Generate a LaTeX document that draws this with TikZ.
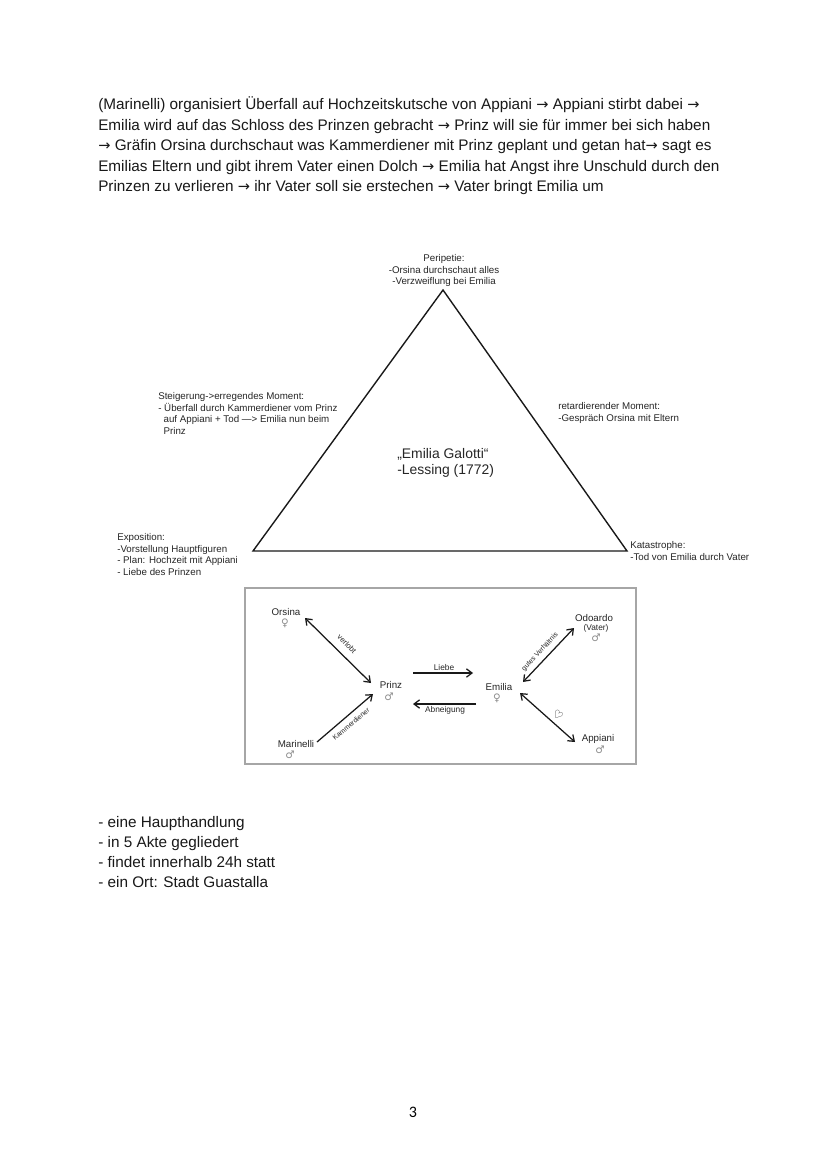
\documentclass[tikz,border=0pt]{standalone}
\usepackage{fontspec}
\setmainfont{Liberation Sans}
\newfontfamily\symfont{DejaVu Sans}
\newfontfamily\pagefont{Carlito}
\usetikzlibrary{arrows.meta}
\newcommand{\ar}{{\symfont\fontsize{10.5}{11}\selectfont →}}
\begin{document}
\begin{tikzpicture}[x=0.7186pt,y=-0.7186pt,
  body/.style={anchor=base west,inner sep=0pt,font=\fontsize{11}{15}\selectfont,text=black!90},
  small/.style={inner sep=0pt,font=\fontsize{7}{8.4}\selectfont,text=black!85},
  title/.style={inner sep=0pt,align=left,font=\fontsize{10}{11.6}\selectfont,text=black!85},
  person/.style={inner sep=0pt,align=center,font=\fontsize{7}{8.2}\selectfont,text=black!85},
  gsym/.style={text=black!45,font=\symfont\fontsize{7.5}{8}\selectfont},
  rel/.style={line width=0.9pt,black!90},
  tip/.style={-{Straight Barb[length=4pt,width=6pt,line width=0.9pt]}},
  dtip/.style={{Straight Barb[length=4pt,width=6pt,line width=0.9pt]}-{Straight Barb[length=4pt,width=6pt,line width=0.9pt]}},
  lab/.style={inner sep=0pt,font=\fontsize{5}{6}\selectfont,text=black!85}]
\useasboundingbox[fill=white] (0,0) rectangle (828,1171);

% header text
\node[body] (h1) at (98,110) {(Marinelli) organisiert Überfall auf Hochzeitskutsche von Appiani \ar{} Appiani stirbt dabei \ar};
\node[body] (h2) at (98,131) {Emilia wird auf das Schloss des Prinzen gebracht \ar{} Prinz will sie für immer bei sich haben};
\node[body] (h3) at (98,151) {\ar{} Gräfin Orsina durchschaut was Kammerdiener mit Prinz geplant und getan hat\ar{} sagt es};
\node[body] (h4) at (98,172) {Emilias Eltern und gibt ihrem Vater einen Dolch \ar{} Emilia hat Angst ihre Unschuld durch den};
\node[body] (h5) at (98,192) {Prinzen zu verlieren \ar{} ihr Vater soll sie erstechen \ar{} Vater bringt Emilia um};

% triangle
\coordinate (apex) at (443,290);
\coordinate (bl) at (253,551);
\coordinate (br) at (627,551);
\draw[line width=1pt,black!90,line join=miter] (apex) -- (br) -- (bl) -- cycle;

\node[small,align=center,anchor=south] (peri) at (444,287) {Peripetie:\\-Orsina durchschaut alles\\-Verzweiflung bei Emilia};
\node[small,align=left,anchor=north west] (steig) at (158,392) {Steigerung->erregendes Moment:\\- Überfall durch Kammerdiener vom Prinz\\\hspace*{0.55em}auf Appiani + Tod —> Emilia nun beim\\\hspace*{0.55em}Prinz};
\node[small,align=left,anchor=north west] (retard) at (558,402) {retardierender Moment:\\-Gespräch Orsina mit Eltern};
\node[title,anchor=north west] (werk) at (397,448) {„Emilia Galotti“\\-Lessing (1772)};
\node[small,align=left,anchor=north west] (expo) at (117,533) {Exposition:\\-Vorstellung Hauptfiguren\\- Plan: Hochzeit mit Appiani\\- Liebe des Prinzen};
\node[small,align=left,anchor=north west] (kata) at (630,541) {Katastrophe:\\-Tod von Emilia durch Vater};

% character box
\draw[line width=0.9pt,black!35] (245,588) rectangle (636,764);

\node[person] (orsina) at (286,612) {Orsina};
\node[gsym] (orsinaS) at (285,623) {♀};
\node[person] (prinz) at (391,685) {Prinz};
\node[gsym] (prinzS) at (389,697) {♂};
\node[person] (marinelli) at (296,744) {Marinelli};
\node[gsym] (marinelliS) at (290,755) {♂};
\node[person] (emilia) at (499,687) {Emilia};
\node[gsym] (emiliaS) at (497,698) {♀};
\node[person] (odoardo) at (594,618) {Odoardo};
\node[person,font=\fontsize{6}{7}\selectfont] (vater) at (596,628) {(Vater)};
\node[gsym] (odoardoS) at (596,638) {♂};
\node[person] (appiani) at (598,739) {Appiani};
\node[gsym] (appianiS) at (600,750) {♂};

\coordinate (oA) at (305,618);
\coordinate (pA) at (371,683);
\coordinate (mA) at (317,742);
\coordinate (pB) at (373,694);
\coordinate (lA) at (413,673);
\coordinate (eA) at (473,673);
\coordinate (eB) at (476,704);
\coordinate (pC) at (413,704);
\coordinate (eC) at (523,682);
\coordinate (odA) at (574,628);
\coordinate (eD) at (520,693);
\coordinate (apA) at (575,742);

\draw[rel,dtip] (oA) -- (pA);
\node[lab,rotate=-45,font=\fontsize{5.5}{6}\selectfont] (verlobt) at (347,644) {verlobt};
\draw[rel,tip] (mA) -- (pB);
\node[lab,rotate=40] (kammer) at (351,724) {Kammerdiener};
\draw[rel,tip] (lA) -- (eA);
\node[lab,font=\fontsize{6}{7}\selectfont] (liebe) at (444,668) {Liebe};
\draw[rel,tip] (eB) -- (pC);
\node[lab,font=\fontsize{6}{7}\selectfont] (abn) at (445,710) {Abneigung};
\draw[rel,dtip] (eC) -- (odA);
\node[lab,rotate=47] (gutes) at (540,652) {gutes Verhältnis};
\draw[rel,dtip] (eD) -- (apA);
\node[lab,rotate=-35,font=\symfont\fontsize{8}{9}\selectfont,text=black] (herz) at (558,715) {♡};

% bottom list
\node[body] (b1) at (98,827) {- eine Haupthandlung};
\node[body] (b2) at (98,847) {- in 5 Akte gegliedert};
\node[body] (b3) at (98,867) {- findet innerhalb 24h statt};
\node[body] (b4) at (98,887) {- ein Ort: Stadt Guastalla};

\node[inner sep=0pt,font=\pagefont\fontsize{11.5}{13}\selectfont] (page) at (413,1112) {3};
\end{tikzpicture}
\end{document}
